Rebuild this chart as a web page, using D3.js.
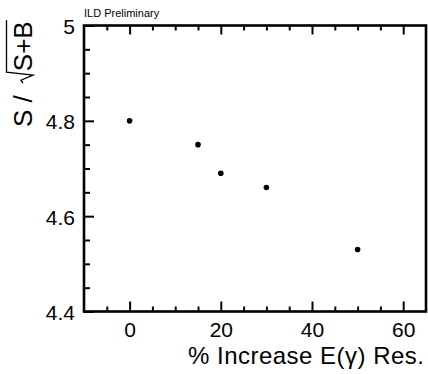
<!DOCTYPE html>
<html>
<head>
  <meta charset="utf-8">
  <title>S over sqrt(S+B)</title>
  <script src="https://d3js.org/d3.v7.min.js"></script>
  <style>
    body {
      margin: 0;
      padding: 0;
      background: white;
    }
    svg text {
      font-family: "Liberation Sans", Arial, Helvetica, sans-serif;
      fill: black;
    }
  </style>
</head>
<body>
  <div id="chart"></div>
  <script>
    // data
    var increase = [0, 15, 20, 30, 50];
    var signif = [4.8, 4.75, 4.69, 4.66, 4.53];
    var xMajorTicks = [0, 20, 40, 60];
    var yMajorTicks = [4.4, 4.6, 4.8, 5];
    var yTickLabels = ["4.4", "4.6", "4.8", "5"];

    var width = 428,
        height = 374;
    // frame edges (note: "top" is reserved on window)
    var frameL = 84, frameR = 426, frameT = 25.5, frameB = 311.5;

    var svg = d3.select("#chart")
      .append("svg")
        .attr("width", width)
        .attr("height", height);

    var x = d3.scaleLinear().domain([-10, 65]).range([frameL, frameR]);
    var y = d3.scaleLinear().domain([4.4, 5]).range([frameB, frameT]);

    // minor ticks
    var xMinor = d3.range(-5, 65, 5).filter(function(d) { return xMajorTicks.indexOf(d) < 0; });
    var yMinor = d3.range(4.45, 5, 0.05).filter(function(d) {
      return yMajorTicks.every(function(m) { return Math.abs(m - d) > 1e-6; });
    });

    function styleAxis(g) {
      g.select(".domain").remove();
      g.selectAll(".tick line").attr("stroke", "black").attr("stroke-width", 2);
    }

    // bottom
    svg.append("g")
      .attr("transform", "translate(0," + frameB + ")")
      .call(d3.axisBottom(x).tickValues(xMinor).tickSize(-5).tickFormat(""))
      .call(styleAxis);
    var xb = svg.append("g")
      .attr("transform", "translate(0," + frameB + ")")
      .call(d3.axisBottom(x).tickValues(xMajorTicks).tickSize(-10))
      .call(styleAxis);
    xb.selectAll(".tick text")
      .attr("y", 25.5)
      .attr("dy", null)
      .attr("font-size", 21);

    // top (ticks only)
    svg.append("g")
      .attr("transform", "translate(0," + frameT + ")")
      .call(d3.axisTop(x).tickValues(xMinor).tickSize(-5).tickFormat(""))
      .call(styleAxis);
    svg.append("g")
      .attr("transform", "translate(0," + frameT + ")")
      .call(d3.axisTop(x).tickValues(xMajorTicks).tickSize(-9).tickFormat(""))
      .call(styleAxis);

    // left
    svg.append("g")
      .attr("transform", "translate(" + frameL + ",0)")
      .call(d3.axisLeft(y).tickValues(yMinor).tickSize(-6).tickFormat(""))
      .call(styleAxis);
    var yl = svg.append("g")
      .attr("transform", "translate(" + frameL + ",0)")
      .call(d3.axisLeft(y).tickValues(yMajorTicks).tickSize(-10)
        .tickFormat(function(d, i) { return yTickLabels[i]; }))
      .call(styleAxis);
    yl.selectAll(".tick text")
      .attr("x", -9)
      .attr("dy", 8)
      .attr("font-size", 21);

    // frame
    svg.append("rect")
      .attr("x", frameL)
      .attr("y", frameT)
      .attr("width", frameR - frameL)
      .attr("height", frameB - frameT)
      .attr("fill", "none")
      .attr("stroke", "black")
      .attr("stroke-width", 2.6);

    // points
    svg.selectAll("circle.pt")
      .data(increase)
      .enter().append("circle")
        .attr("class", "pt")
        .attr("cx", function(d) { return x(d); })
        .attr("cy", function(d, i) { return y(signif[i]); })
        .attr("r", 2.8)
        .attr("fill", "black");

    // x title
    svg.append("text")
      .attr("x", 424)
      .attr("y", 364)
      .attr("text-anchor", "end")
      .attr("font-size", 24)
      .attr("textLength", 236)
      .attr("lengthAdjust", "spacing")
      .text("% Increase E(\u03b3) Res.");

    // y title: S / sqrt(S+B), rotated
    var yt = svg.append("g")
      .attr("transform", "translate(32,127) rotate(-90)");
    var t1 = yt.append("text")
      .attr("x", 0)
      .attr("y", 0)
      .attr("font-size", 26)
      .text("S /");
    var w1 = t1.node().getComputedTextLength();
    var r0 = w1 + 12;
    var sb = yt.append("text")
      .attr("x", r0 + 12)
      .attr("y", 0)
      .attr("font-size", 26)
      .text("S+B");
    var w2 = sb.node().getComputedTextLength();
    yt.append("path")
      .attr("d", "M" + r0 + ",-9 L" + (r0 + 3) + ",-11 L" + (r0 + 8) + ",1 L" + (r0 + 11) + ",-25.5 L" + (r0 + 12 + w2 + 1) + ",-25.5")
      .attr("fill", "none")
      .attr("stroke", "black")
      .attr("stroke-width", 1.3);

    // label
    svg.append("text")
      .attr("x", 84)
      .attr("y", 17)
      .attr("font-size", 11)
      .text("ILD Preliminary");
  </script>
</body>
</html>
